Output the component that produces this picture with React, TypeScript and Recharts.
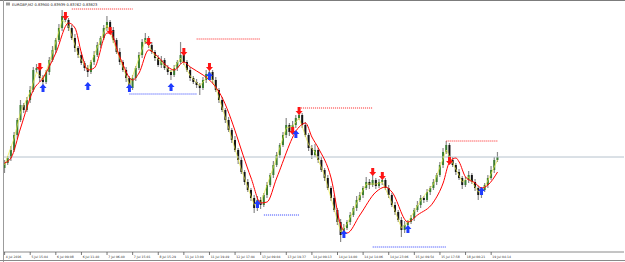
import { ComposedChart, Bar, Line, Scatter, XAxis, YAxis, ReferenceLine } from 'recharts';

// EURGBP M2 (range bars), 4 Jul 2016 .. 19 Jul 2016
const opens = [
  0.8372, 0.8377, 0.8382, 0.839, 0.8405, 0.842, 0.8435, 0.843, 0.844, 0.845,
  0.847, 0.8472, 0.8462, 0.8458, 0.8468, 0.848, 0.849, 0.85, 0.8512, 0.8524,
  0.852, 0.8512, 0.8502, 0.8492, 0.8485, 0.8477, 0.8472, 0.8468, 0.8478, 0.8485,
  0.8495, 0.8502, 0.8512, 0.8518, 0.851, 0.85, 0.8488, 0.8478, 0.847, 0.8462,
  0.8452, 0.8462, 0.8472, 0.8485, 0.8498, 0.8502, 0.8495, 0.8488, 0.8482, 0.8475,
  0.848, 0.8472, 0.8468, 0.8465, 0.8472, 0.8478, 0.8485, 0.8478, 0.847, 0.8462,
  0.8458, 0.8455, 0.8452, 0.846, 0.8466, 0.8468, 0.846, 0.845, 0.844, 0.843,
  0.842, 0.841, 0.84, 0.839, 0.838, 0.8368, 0.8358, 0.835, 0.8342, 0.8332,
  0.834, 0.8335, 0.8345, 0.8355, 0.8365, 0.8375, 0.8385, 0.8395, 0.8405, 0.8415,
  0.8408, 0.8415, 0.8422, 0.8425, 0.8415, 0.8405, 0.8392, 0.8385, 0.839, 0.838,
  0.837, 0.8362, 0.8352, 0.8342, 0.833, 0.8318, 0.8305, 0.8312, 0.8318, 0.8325,
  0.8332, 0.834, 0.8345, 0.8352, 0.8358, 0.8355, 0.836, 0.8354, 0.8358, 0.836,
  0.8352, 0.8345, 0.8335, 0.8328, 0.832, 0.831, 0.8315, 0.8318, 0.8322, 0.833,
  0.8335, 0.8342, 0.834, 0.8348, 0.8352, 0.8358, 0.8365, 0.8375, 0.8388, 0.8395,
  0.838, 0.8375, 0.8368, 0.8362, 0.8355, 0.836, 0.8365, 0.8358, 0.8352, 0.8345,
  0.835, 0.8355, 0.8362, 0.837, 0.838,
];
const highs = [
  0.838, 0.8384, 0.8394, 0.8408, 0.8422, 0.844, 0.8437, 0.8443, 0.8454, 0.8473,
  0.8476, 0.8473, 0.8465, 0.847, 0.8483, 0.8494, 0.8502, 0.8516, 0.853, 0.8527,
  0.8522, 0.8515, 0.8506, 0.8494, 0.8488, 0.8479, 0.8475, 0.848, 0.8489, 0.8498,
  0.8504, 0.8515, 0.8524, 0.852, 0.8513, 0.8502, 0.8492, 0.848, 0.8473, 0.8464,
  0.8465, 0.8474, 0.8488, 0.8501, 0.8507, 0.8504, 0.8498, 0.849, 0.8485, 0.8484,
  0.8482, 0.8475, 0.847, 0.8475, 0.848, 0.8498, 0.8488, 0.848, 0.8473, 0.8464,
  0.8461, 0.8457, 0.8463, 0.847, 0.8474, 0.847, 0.8463, 0.8452, 0.8443, 0.8432,
  0.8423, 0.8412, 0.8404, 0.8392, 0.8383, 0.837, 0.8361, 0.8352, 0.8345, 0.8344,
  0.8343, 0.8347, 0.8358, 0.8367, 0.8379, 0.8388, 0.8397, 0.8408, 0.8422, 0.8417,
  0.8419, 0.8425, 0.843, 0.8427, 0.8418, 0.8407, 0.8395, 0.8396, 0.8392, 0.8383,
  0.8372, 0.8365, 0.8354, 0.8345, 0.8332, 0.8321, 0.8316, 0.832, 0.8328, 0.8334,
  0.8344, 0.8348, 0.8354, 0.8363, 0.8361, 0.8365, 0.8362, 0.8361, 0.8364, 0.8362,
  0.8355, 0.8347, 0.8338, 0.833, 0.8323, 0.8319, 0.832, 0.8325, 0.8332, 0.8339,
  0.8345, 0.8344, 0.8351, 0.8354, 0.8361, 0.8367, 0.8378, 0.8392, 0.8399, 0.8397,
  0.8383, 0.8377, 0.8371, 0.8364, 0.8363, 0.8369, 0.8367, 0.8361, 0.8354, 0.8353,
  0.8357, 0.8365, 0.8374, 0.8383, 0.8388,
];
const lows = [
  0.8367, 0.8375, 0.8379, 0.8388, 0.8401, 0.8418, 0.8427, 0.8428, 0.8437, 0.8448,
  0.8467, 0.8458, 0.8454, 0.8456, 0.8465, 0.8478, 0.8487, 0.8498, 0.8509, 0.8518,
  0.8509, 0.85, 0.8488, 0.8482, 0.8475, 0.8469, 0.8463, 0.8466, 0.8475, 0.8483,
  0.8492, 0.85, 0.8509, 0.8508, 0.8497, 0.8486, 0.8475, 0.8468, 0.8458, 0.8448,
  0.845, 0.8459, 0.847, 0.8482, 0.8496, 0.8492, 0.8486, 0.8479, 0.8473, 0.8472,
  0.847, 0.8465, 0.846, 0.8463, 0.8469, 0.8476, 0.8475, 0.8468, 0.8459, 0.8456,
  0.8452, 0.8445, 0.845, 0.8457, 0.8464, 0.8457, 0.8448, 0.8437, 0.8428, 0.8417,
  0.8408, 0.8397, 0.8388, 0.8376, 0.8366, 0.8355, 0.8348, 0.8339, 0.8327, 0.8329,
  0.8331, 0.8333, 0.8342, 0.8353, 0.8362, 0.8373, 0.8382, 0.8393, 0.8402, 0.8404,
  0.8406, 0.8412, 0.842, 0.8412, 0.8403, 0.8389, 0.8381, 0.8383, 0.8377, 0.8368,
  0.8359, 0.835, 0.8339, 0.8328, 0.8315, 0.8298, 0.8302, 0.831, 0.8315, 0.8323,
  0.8329, 0.8338, 0.8342, 0.835, 0.8351, 0.8353, 0.8351, 0.8352, 0.8355, 0.835,
  0.8342, 0.8333, 0.8325, 0.8318, 0.8303, 0.8307, 0.8311, 0.8316, 0.8319, 0.8328,
  0.8332, 0.8337, 0.8338, 0.8345, 0.835, 0.8355, 0.8363, 0.8372, 0.8386, 0.8377,
  0.8373, 0.8365, 0.836, 0.8351, 0.8353, 0.8357, 0.8356, 0.8349, 0.834, 0.8342,
  0.8348, 0.8352, 0.836, 0.8367, 0.8378,
];
const closes = [
  0.8377, 0.8382, 0.839, 0.8405, 0.842, 0.8435, 0.843, 0.844, 0.845, 0.847,
  0.8472, 0.8462, 0.8458, 0.8468, 0.848, 0.849, 0.85, 0.8512, 0.8524, 0.852,
  0.8512, 0.8502, 0.8492, 0.8485, 0.8477, 0.8472, 0.8468, 0.8478, 0.8485, 0.8495,
  0.8502, 0.8512, 0.8518, 0.851, 0.85, 0.8488, 0.8478, 0.847, 0.8462, 0.8452,
  0.8462, 0.8472, 0.8485, 0.8498, 0.8502, 0.8495, 0.8488, 0.8482, 0.8475, 0.848,
  0.8472, 0.8468, 0.8465, 0.8472, 0.8478, 0.8485, 0.8478, 0.847, 0.8462, 0.8458,
  0.8455, 0.8452, 0.846, 0.8466, 0.8468, 0.846, 0.845, 0.844, 0.843, 0.842,
  0.841, 0.84, 0.839, 0.838, 0.8368, 0.8358, 0.835, 0.8342, 0.8332, 0.834,
  0.8335, 0.8345, 0.8355, 0.8365, 0.8375, 0.8385, 0.8395, 0.8405, 0.8415, 0.8408,
  0.8415, 0.8422, 0.8425, 0.8415, 0.8405, 0.8392, 0.8385, 0.839, 0.838, 0.837,
  0.8362, 0.8352, 0.8342, 0.833, 0.8318, 0.8305, 0.8312, 0.8318, 0.8325, 0.8332,
  0.834, 0.8345, 0.8352, 0.8358, 0.8355, 0.836, 0.8354, 0.8358, 0.836, 0.8352,
  0.8345, 0.8335, 0.8328, 0.832, 0.831, 0.8315, 0.8318, 0.8322, 0.833, 0.8335,
  0.8342, 0.834, 0.8348, 0.8352, 0.8358, 0.8365, 0.8375, 0.8388, 0.8395, 0.838,
  0.8375, 0.8368, 0.8362, 0.8355, 0.836, 0.8365, 0.8358, 0.8352, 0.8345, 0.835,
  0.8355, 0.8362, 0.837, 0.838, 0.8383,
];

// indicator readings [bar, price]
const slowMa = [
  [0, 0.8377], [2, 0.8382], [5, 0.8412], [9, 0.845], [12, 0.8462], [16, 0.8487],
  [20, 0.8517], [22, 0.8512], [24, 0.8487], [26, 0.847], [28, 0.8472], [32, 0.8507],
  [33, 0.8507], [36, 0.8483], [40, 0.846], [42, 0.8467], [45, 0.849], [48, 0.8483],
  [51, 0.8473], [53, 0.847], [56, 0.8478], [58, 0.8473], [62, 0.8465], [64, 0.846],
  [67, 0.8448], [77, 0.8362], [80, 0.8337], [82, 0.8338], [85, 0.8362], [92, 0.8413],
  [94, 0.8417], [96, 0.8403], [98, 0.8392], [102, 0.8362], [105, 0.8315], [107, 0.8307],
  [111, 0.8325], [116, 0.8348], [119, 0.8353], [121, 0.8348], [126, 0.8318], [129, 0.8325],
  [134, 0.8338], [137, 0.8357], [139, 0.8378], [141, 0.8382], [142, 0.8378], [144, 0.8363],
  [147, 0.8357], [149, 0.8352], [151, 0.8355], [154, 0.8368],
];
const fastMa = [
  [0, 0.8375], [3, 0.8402], [5, 0.8428], [8, 0.8448], [10, 0.8468], [12, 0.846],
  [14, 0.8478], [16, 0.8498], [18, 0.852], [20, 0.8514], [23, 0.8485], [26, 0.847],
  [29, 0.8493], [32, 0.8515], [35, 0.849], [39, 0.8455], [42, 0.8482], [44, 0.85],
  [47, 0.8484], [50, 0.8474], [52, 0.8468], [55, 0.8482], [58, 0.8464], [61, 0.8454],
  [64, 0.8466], [66, 0.8452], [70, 0.8412], [74, 0.837], [78, 0.8335], [80, 0.8337],
  [84, 0.8373], [88, 0.8412], [90, 0.8414], [92, 0.8422], [95, 0.8395], [97, 0.8388],
  [100, 0.8364], [105, 0.8308], [107, 0.8316], [111, 0.8344], [113, 0.8356], [116, 0.8356],
  [118, 0.8358], [121, 0.8337], [124, 0.8312], [126, 0.8318], [130, 0.834], [134, 0.8356],
  [138, 0.839], [140, 0.8377], [143, 0.8358], [145, 0.8363], [148, 0.8348], [150, 0.8353],
  [154, 0.838],
];
const sellSignals = [
  [11, 0.8472], [19, 0.8523], [33, 0.8508], [45, 0.8497], [56, 0.8487], [64, 0.8472],
  [90, 0.8408], [92, 0.8428], [115, 0.8367], [118, 0.8363], [139, 0.8378],
];
const buySignals = [
  [12, 0.8453], [26, 0.8455], [39, 0.8453], [52, 0.8454], [64, 0.8465], [79, 0.8337],
  [91, 0.8407], [106, 0.8307], [126, 0.8312], [149, 0.835],
];
const levels = [
  { from: 21, to: 40, price: 0.8531, kind: 'resistance' },
  { from: 39, to: 60, price: 0.8446, kind: 'support' },
  { from: 60, to: 80, price: 0.8501, kind: 'resistance' },
  { from: 81, to: 92, price: 0.8325, kind: 'support' },
  { from: 92, to: 115, price: 0.8432, kind: 'resistance' },
  { from: 115, to: 138, price: 0.8293, kind: 'support' },
  { from: 138, to: 154, price: 0.8399, kind: 'resistance' },
];
const bidPrice = 0.8383;
const tickBars = [0, 8, 16, 24, 32, 40, 48, 56, 64, 72, 80, 88, 96, 104, 112, 120, 128, 136, 144, 152];
const tickLabels = [
  '4 Jul 2016', '5 Jul 15:04', '6 Jul 09:08', '6 Jul 11:40', '7 Jul 06:40',
  '7 Jul 15:01', '8 Jul 15:29', '11 Jul 13:09', '11 Jul 19:49', '12 Jul 17:04',
  '13 Jul 09:04', '13 Jul 19:37', '14 Jul 09:13', '14 Jul 14:00', '14 Jul 14:06',
  '14 Jul 23:06', '15 Jul 09:54', '15 Jul 17:58', '18 Jul 00:21', '19 Jul 04:14',
];
const title = 'EURGBP,M2  0.83900 0.83939 0.83762 0.83823';

const TOTAL_BARS = 194; // bars + chart shift on the right

const rows: any[] = Array.from({ length: TOTAL_BARS }, (_, i) => {
  const has = i < closes.length;
  return {
    bar: i,
    open: has ? opens[i] : null,
    high: has ? highs[i] : null,
    low: has ? lows[i] : null,
    close: has ? closes[i] : null,
    range: has ? [lows[i], highs[i]] : null,
    slow: null,
    fast: null,
    sell: null,
    buy: null,
  };
});
slowMa.forEach(([i, v]) => (rows[i].slow = v));
fastMa.forEach(([i, v]) => (rows[i].fast = v));
sellSignals.forEach(([i, v]) => (rows[i].sell = v));
buySignals.forEach(([i, v]) => (rows[i].buy = v));

const GREEN = '#3b7d33';
const DARK = '#151515';
const WICK = '#8a8a8a';

function Candle(props: any) {
  const { x, y, width, height, payload } = props;
  if (!payload || payload.open == null) return <g />;
  const { open, high, low, close } = payload;
  const k = high > low ? height / (high - low) : 0;
  const py = (v: number) => y + (high - v) * k;
  const cx = x + width / 2;
  const top = py(Math.max(open, close));
  const bottom = py(Math.min(open, close));
  return (
    <g>
      <line x1={cx} x2={cx} y1={y} y2={y + height} stroke={WICK} strokeWidth={1.2} />
      <rect
        x={cx - 1}
        y={top}
        width={2}
        height={Math.max(1, bottom - top)}
        fill={close >= open ? GREEN : DARK}
      />
    </g>
  );
}

function SellArrow(props: any) {
  const { cx, cy, payload } = props;
  if (!payload || payload.sell == null || cy == null) return <g />;
  return (
    <path
      d={`M${cx - 1.5},${cy - 5} h3 v4 h2 l-3.5,4 l-3.5,-4 h2 z`}
      fill="#ff1414"
    />
  );
}

function BuyArrow(props: any) {
  const { cx, cy, payload } = props;
  if (!payload || payload.buy == null || cy == null) return <g />;
  return (
    <path
      d={`M${cx - 1.5},${cy + 5} h3 v-4 h2 l-3.5,-4 l-3.5,4 h2 z`}
      fill="#1f3cff"
    />
  );
}

function TimeTick(props: any) {
  const { x, y, payload } = props;
  const label = tickLabels[tickBars.indexOf(payload.value)];
  return (
    <g>
      <line x1={x} x2={x} y1={y} y2={y + 3} stroke="#555" strokeWidth={0.8} />
      <text x={x + 1.2} y={y + 5.6} fontSize={3.1} fill="#333" fontFamily="DejaVu Sans">
        {label}
      </text>
    </g>
  );
}

export default function App() {
  return (
    <div
      style={{
        position: 'fixed',
        left: 0,
        top: 0,
        width: 625,
        height: 262,
        background: '#fff',
        overflow: 'hidden',
      }}
    >
      <ComposedChart
        width={625}
        height={262}
        data={rows}
        margin={{ top: 1, right: 1, left: 3, bottom: 0 }}
        barCategoryGap={0}
        barGap={0}
      >
        <XAxis
          dataKey="bar"
          type="category"
          ticks={tickBars}
          interval={0}
          height={10}
          tickLine={false}
          tickSize={0}
          tickMargin={0}
          axisLine={{ stroke: '#8a8a8a' }}
          tick={TimeTick}
        />
        <YAxis hide domain={[0.8288, 0.8539]} allowDataOverflow />
        <ReferenceLine y={bidPrice} stroke="#b6c2cd" strokeWidth={1} ifOverflow="visible" />
        {levels.map((lv, i) => (
          <ReferenceLine
            key={i}
            segment={[
              { x: lv.from, y: lv.price },
              { x: lv.to, y: lv.price },
            ]}
            stroke={lv.kind === 'resistance' ? '#ff2020' : '#2a3cff'}
            strokeWidth={1}
            strokeDasharray="1 1"
            ifOverflow="visible"
          />
        ))}
        <Bar dataKey="range" barSize={3} shape={Candle} isAnimationActive={false} />
        <Line
          dataKey="fast"
          type="linear"
          stroke="#e8e840"
          strokeWidth={0.7}
          dot={false}
          connectNulls
          isAnimationActive={false}
        />
        <Line
          dataKey="slow"
          type="monotone"
          stroke="#ff0000"
          strokeWidth={1}
          dot={false}
          connectNulls
          isAnimationActive={false}
        />
        <Scatter dataKey="sell" shape={SellArrow} isAnimationActive={false} />
        <Scatter dataKey="buy" shape={BuyArrow} isAnimationActive={false} />
      </ComposedChart>
      <div style={{ position: 'absolute', left: 0, top: 0, width: 625, height: 1, background: '#7c7c7c' }} />
      <div style={{ position: 'absolute', left: 3, top: 0, width: 1, height: 262, background: '#9c9c9c' }} />
      <div style={{ position: 'absolute', left: 0, top: 260, width: 625, height: 1, background: '#8a8a8a' }} />
      <svg width={120} height={9} style={{ position: 'absolute', left: 0, top: 0 }}>
        <rect x={6} y={2.5} width={4} height={3} fill="#9a9a9a" />
        <text x={12} y={6.2} fontSize={3.6} fill="#222" fontFamily="DejaVu Sans">
          {title}
        </text>
      </svg>
    </div>
  );
}
